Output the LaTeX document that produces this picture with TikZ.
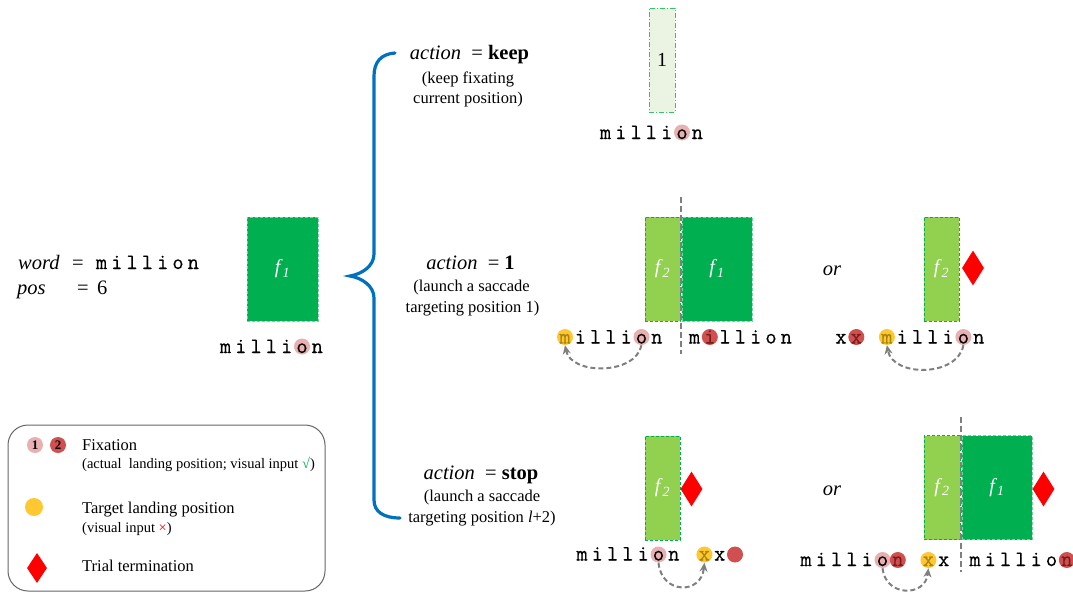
\documentclass[tikz,border=0pt]{standalone}
\usepackage{fontspec}
\setmainfont{Liberation Serif}
\newfontfamily\monofont[FakeBold=0.3]{Latin Modern Mono}
\usetikzlibrary{arrows.meta,shapes.geometric}

\definecolor{fixpink}{HTML}{E8B0B0}
\definecolor{fixred}{HTML}{D05050}
\definecolor{tgtyellow}{HTML}{FFC832}
\definecolor{ontgt}{HTML}{A8840C}
\definecolor{onred}{HTML}{7A1C1C}
\definecolor{fdark}{HTML}{00B050}
\definecolor{flight}{HTML}{92D050}
\definecolor{fpale}{HTML}{EBF3E3}
\definecolor{fedge}{HTML}{33C46A}
\definecolor{braceblue}{HTML}{0070C0}
\definecolor{guide}{HTML}{7F7F7F}

\newcommand\fsz[1]{\fontsize{#1}{#1}\selectfont}
% one monospaced word, letter by letter, with a fixed pitch
\newcommand\mword[4]{\foreach \ch [count=\k from 0] in {#4} {\node[mch] (#1\k) at ({#2+\k*15.3},#3) {\ch};}}
\newcommand\fl[1]{\textit{f}\textsubscript{\textit{#1}}}

\begin{document}
\begin{tikzpicture}[x=1pt,y=-1pt,
  mch/.style={font=\monofont\fsz{22}, inner sep=0, anchor=base},
  fixone/.style={circle, fill=fixpink, minimum size=16, inner sep=0},
  fixtwo/.style={circle, fill=fixred, minimum size=16, inner sep=0},
  target/.style={circle, fill=tgtyellow, minimum size=16, inner sep=0},
  term/.style={diamond, fill=red, inner sep=0, minimum width=22, minimum height=35},
  fone/.style={rectangle, fill=fdark, draw=fdark!55!white, dash pattern=on 3pt off 2pt, line width=0.7,
    minimum height=104, inner sep=0, text=white, font=\fsz{20}},
  ftwo/.style={rectangle, fill=flight, draw=fdark, dash pattern=on 3pt off 2pt, line width=0.8,
    minimum width=35, minimum height=104, inner sep=0, text=white, font=\fsz{20}},
  ptop/.style={rectangle, fill=fpale, draw=fedge, dash pattern=on 5pt off 2pt on 1pt off 2pt, line width=0.9,
    minimum width=26, minimum height=104, inner sep=0, font=\fsz{20}},
  guideline/.style={draw=guide, line width=1.8, dash pattern=on 6pt off 3pt},
  saccade/.style={draw=guide, line width=2, dash pattern=on 5pt off 3pt, -{Stealth[length=9, width=8]}},
  brace/.style={draw=braceblue, line width=3.2, line cap=round},
  ttl/.style={font=\fsz{20.5}, inner sep=0, anchor=base},
  expl/.style={font=\fsz{16.5}, inner sep=0, anchor=base},
  lgm/.style={font=\fsz{16.5}, inner sep=0, anchor=base west},
  lgs/.style={font=\fsz{14.5}, inner sep=0, anchor=base west},
  legendbox/.style={rectangle, draw=guide!80!black, line width=1, rounded corners=20, fill=white,
    minimum width=317, minimum height=166, inner sep=0}
]
\useasboundingbox (0,0) rectangle (1073,592);

% ---------- current state ----------
\node[ttl, anchor=base west] (wd) at (18,269) {\textit{word}};
\node[ttl, anchor=base west] (weq) at (72,269) {=};
\mword{wv}{101.5}{269}{m,i,l,l,i,o,n}
\node[ttl, anchor=base west] (ps) at (17,294) {\textit{pos}};
\node[ttl, anchor=base west] (peq) at (77,294) {=};
\node[ttl, anchor=base west] (pv) at (97,294) {6};

\node[fone, minimum width=71] (r1) at (282.5,269) {\fl{1}};
\node[fixone] (wlp) at (302,346.5) {};
\mword{wl}{225.5}{353}{m,i,l,l,i,o,n}

% ---------- brace ----------
\draw[brace] (395,53) .. controls (381,54) and (374,62) .. (374,76) -- (374,254)
  .. controls (374,266) and (362,274) .. (350,276)
  .. controls (362,278) and (374,286) .. (374,298) -- (374,500)
  .. controls (374,512) and (384,518) .. (400,518);

% ---------- action labels ----------
\node[ttl] (a1) at (469.5,59) {\textit{action}\enspace= \textbf{keep}};
\node[expl] (a1x) at (468,83) {(keep fixating};
\node[expl] (a1y) at (468,103) {current position)};

\node[ttl] (a2) at (470.5,269) {\textit{action}\enspace= \textbf{1}};
\node[expl] (a2x) at (471.5,291) {(launch a saccade};
\node[expl] (a2y) at (472.5,312) {targeting position 1)};

\node[ttl] (a3) at (481,479) {\textit{action}\enspace= \textbf{stop}};
\node[expl] (a3x) at (482,501) {(launch a saccade};
\node[expl] (a3y) at (482,522) {targeting position \textit{l}+2)};

% ---------- keep ----------
\node[ptop] (r0) at (662,60) {1};
\node[fixone] (tkp) at (682,132.5) {};
\mword{tk}{605.5}{139}{m,i,l,l,i,o,n}

% ---------- action = 1 ----------
\node[ftwo] (r2) at (662.5,269) {\fl{2}};
\node[fone, minimum width=70] (r3) at (717,269) {\fl{1}};
\coordinate (g1t) at (681,197);
\coordinate (g1b) at (681,354);
\draw[guideline] (g1t) -- (g1b);

\node[target] (aly) at (565,337) {};
\node[fixone] (alp) at (641.5,337) {};
\mword{al}{565}{343.5}{{\color{ontgt}m},i,l,l,i,o,n}
\node[fixtwo] (arr) at (709.8,337) {};
\mword{ar}{694.5}{343.5}{m,{\color{onred}i},l,l,i,o,n}
\draw[saccade] (alp.south) .. controls +(-6,30) and +(6,30) .. (aly.south);

\node[ttl] (or1) at (832,275) {\textit{or}};
\node[ftwo] (r4) at (941.5,269) {\fl{2}};
\node[term] (t1) at (973,268) {};
\node[fixtwo] (brr) at (856.3,337) {};
\node[target] (bry) at (886.9,337) {};
\node[fixone] (brp) at (963.4,337) {};
\mword{bx}{841}{343.5}{x,{\color{onred}x}}
\mword{bm}{886.9}{343.5}{{\color{ontgt}m},i,l,l,i,o,n}
\draw[saccade] (brp.south) .. controls +(-6,32) and +(6,32) .. (bry.south);

% ---------- action = stop ----------
\node[ftwo] (r5) at (662.5,488) {\fl{2}};
\node[term] (t2) at (691.5,489) {};
\node[fixone] (cp) at (658.5,554.5) {};
\node[target] (cy) at (704.4,554.5) {};
\node[fixtwo] (cr) at (735,554.5) {};
\mword{cm}{582}{560.5}{m,i,l,l,i,o,n}
\mword{cx}{704.4}{560.5}{{\color{ontgt}x},x}
\draw[saccade] (cp.south) .. controls +(3,32) and +(-3,32) .. (cy.south);

\node[ttl] (or2) at (832,495) {\textit{or}};
\node[ftwo, minimum width=36] (r6) at (942,487.5) {\fl{2}};
\node[fone, minimum width=70] (r7) at (997,487.5) {\fl{1}};
\node[term] (t3) at (1043.5,489) {};
\coordinate (g2t) at (961,417);
\coordinate (g2b) at (961,572);
\draw[guideline] (g2t) -- (g2b);

\node[fixone] (dp) at (882.5,560) {};
\node[fixtwo] (dr) at (897.8,560) {};
\node[target] (dy) at (928.4,560) {};
\node[fixtwo] (er) at (1066.8,560) {};
\mword{dm}{806}{566}{m,i,l,l,i,o,{\color{onred}n}}
\mword{dx}{928.4}{566}{{\color{ontgt}x},x}
\mword{em}{975}{566}{m,i,l,l,i,o,{\color{onred}n}}
\draw[saccade] (dp.south) .. controls +(3,29) and +(-3,29) .. (dy.south);

% ---------- legend ----------
\node[legendbox] (lgd) at (166.5,508) {};
\node[fixone, font=\fsz{13}\bfseries] (l1) at (35,445) {1};
\node[fixtwo, font=\fsz{13}\bfseries] (l2) at (58,445) {2};
\node[lgm] (lf) at (82,450) {Fixation};
\node[lgs] (lfs) at (82,468) {(actual\ \ landing position; visual input \textcolor{fdark}{√})};
\node[target, minimum size=18] (ly) at (34,507) {};
\node[lgm] (lt) at (82,513) {Target landing position};
\node[lgs] (lts) at (82,532) {(visual input \textcolor{red}{×})};
\node[term, minimum width=20, minimum height=30] (ld) at (37,568) {};
\node[lgm] (lr) at (82,571) {Trial termination};
\end{tikzpicture}
\end{document}
